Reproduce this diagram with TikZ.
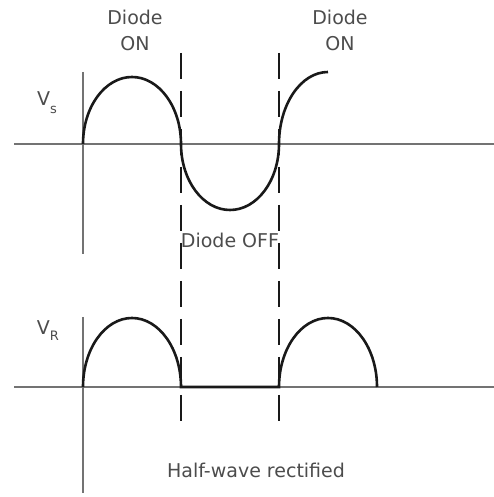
\documentclass[tikz,border=0pt]{standalone}
\usepackage{fontspec}
\setmainfont{DejaVu Sans}
\usepackage{tikz}
\usetikzlibrary{positioning, calc}

\begin{document}
\begin{tikzpicture}[
		x=1pt, y=1pt,
		axisLine/.style={draw=black!55, line width=1.8pt},
		waveLine/.style={draw=black!90, line width=2.6pt},
		dashLine/.style={draw=black!90, line width=2.8pt, dash pattern=on 26pt off 12pt},
		labelText/.style={text=black!70, font=\fontsize{19}{26}\selectfont, align=center, inner sep=0pt},
		symText/.style={text=black!70, font=\fontsize{19}{22}\selectfont, inner sep=0pt}
		]
		\useasboundingbox (0,0) rectangle (494,497);

		% Etiquetas
		\node[labelText] (onLeft) at (135,467) {Diode\\ON};
		\node[labelText] (onRight) at (340,467) {Diode\\ON};
		\node[labelText] (offMid) at (230,257) {Diode OFF};
		\node[labelText] (caption) at (256,27) {Half-wave rectified};
		\node[symText] (vsLabel) at (47,394) {V\raisebox{-8pt}{\fontsize{13}{13}\selectfont s}};
		\node[symText] (vrLabel) at (48,166) {V\raisebox{-6pt}{\fontsize{13}{13}\selectfont R}};

		% Ejes
		\draw[axisLine] (14,353) -- (494,353);
		\draw[axisLine] (83,425) -- (83,243);
		\draw[axisLine] (14,110) -- (494,110);
		\draw[axisLine] (83,180) -- (83,4);

		% Onda de entrada
		\draw[waveLine] (83,353) arc[start angle=180, end angle=0, x radius=49pt, y radius=67pt]
			arc[start angle=180, end angle=360, x radius=49pt, y radius=66pt]
			arc[start angle=180, end angle=90, x radius=49pt, y radius=72pt];

		% Onda rectificada
		\draw[waveLine] (83,110) arc[start angle=180, end angle=0, x radius=49pt, y radius=69pt]
			-- (279,110)
			arc[start angle=180, end angle=0, x radius=49pt, y radius=69pt];

		% Divisiones
		\draw[dashLine] (181,444) -- (181,74);
		\draw[dashLine] (279,444) -- (279,74);

	\end{tikzpicture}
\end{document}
